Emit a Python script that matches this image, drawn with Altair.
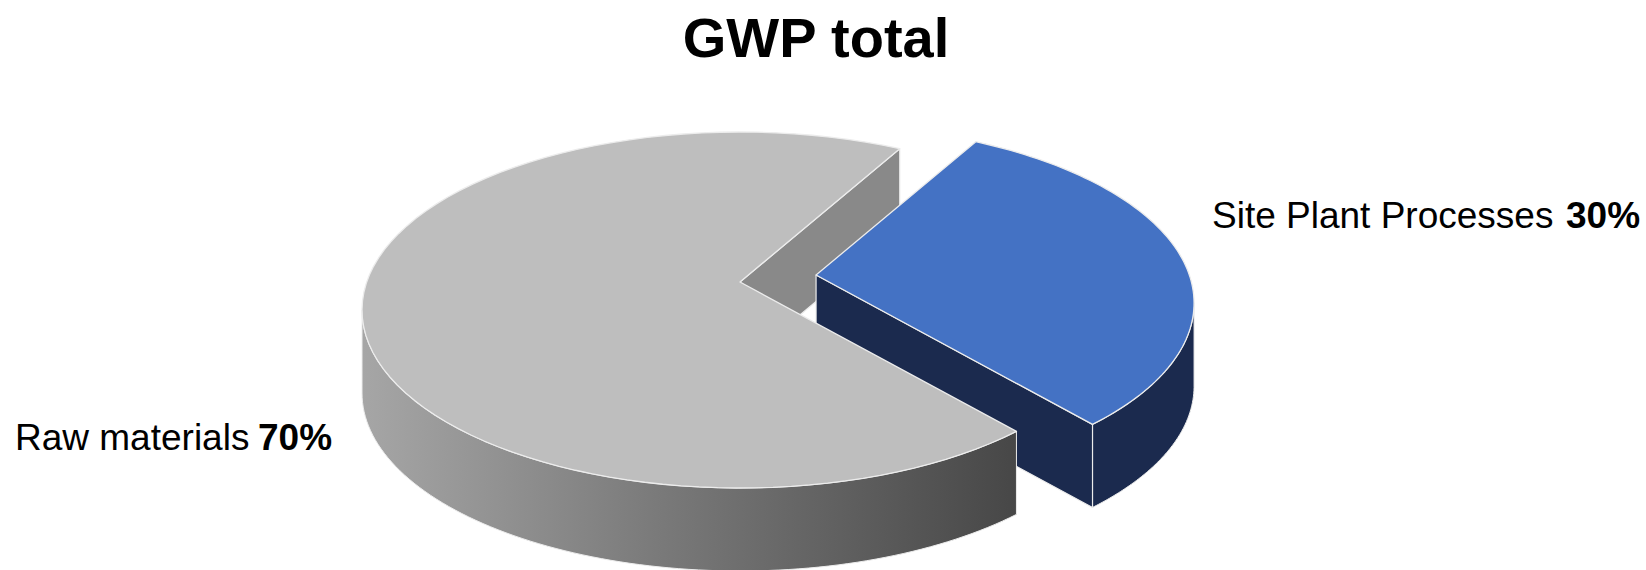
import altair as alt
import pandas as pd

# ---- data ----
CATEGORIES = ["Site Plant Processes", "Raw materials"]
VALUES = [30, 70]
TITLE = "GWP total"

# ---- geometry / style constants (pixels) ----
W, H = 1646, 570
CX, CY = 740, 310          # rim ellipse centre
RX, RY = 378, 178          # rim ellipse radii
AY = -28                   # perspective offset of pie centre
DEPTH = 83                 # pie thickness
START = 25                 # first slice start angle (deg, clockwise from top)
EXPLODED = "Site Plant Processes"
EXPLODE = 0.205
N = 90
FONT = "Liberation Sans"
EDGE = "#ececec"
RAD = "PI/180"
LABEL_SIZE = 37

STYLE = {
    "Site Plant Processes": {"top": "#4472c4", "face": "#1b2a4e",
                             "wall": "#1b2a4e"},
    "Raw materials": {"top": "#bebebe", "face": "#898989",
                      "wall": alt.Gradient(
                          gradient="linear",
                          stops=[alt.GradientStop(color="#a6a6a6", offset=0),
                                 alt.GradientStop(color="#7a7a7a", offset=0.45),
                                 alt.GradientStop(color="#474747", offset=1)],
                          x1=0, x2=1, y1=0, y2=0)},
}

df = pd.DataFrame({"category": CATEGORIES, "value": VALUES})

xs = alt.Scale(domain=[0, W], range=[0, W], nice=False, zero=False)
ys = alt.Scale(domain=[0, H], range=[0, H], nice=False, zero=False)


def base():
    return (
        alt.Chart(df)
        .transform_window(idx="row_number()")
        .transform_window(cum="sum(value)", sort=[alt.SortField("idx")],
                          frame=[None, 0])
        .transform_joinaggregate(total="sum(value)")
        .transform_calculate(t0=f"{START} + 360*(datum.cum - datum.value)/datum.total")
        .transform_calculate(t1=f"{START} + 360*datum.cum/datum.total")
        .transform_calculate(ex=f"datum.category == '{EXPLODED}' ? {EXPLODE} : 0")
        .transform_calculate(ecx=f"{CX} + datum.ex*{RX}*sin((datum.t0+datum.t1)/2*{RAD})")
        .transform_calculate(ecy=f"{CY} - datum.ex*{RY}*cos((datum.t0+datum.t1)/2*{RAD})")
    )


def poly(ch, fill, sw=1.3):
    return ch.mark_line(
        interpolate="linear-closed", fill=fill, stroke=EDGE,
        strokeWidth=sw, strokeJoin="round", fillOpacity=1
    ).encode(
        x=alt.X("px:Q", scale=xs, axis=None),
        y=alt.Y("py:Q", scale=ys, axis=None),
        order=alt.Order("s:Q"),
    )


def top(cat):
    c = (
        base()
        .transform_filter(alt.datum.category == cat)
        .transform_calculate(seq=f"sequence(0, {N + 3})")
        .transform_flatten(["seq"], as_=["s"])
        .transform_calculate(th=f"datum.t0 + (datum.t1 - datum.t0)*clamp(datum.s - 1, 0, {N})/{N}")
        .transform_calculate(apex=f"datum.s == 0 || datum.s == {N + 2}")
        .transform_calculate(px=f"datum.apex ? datum.ecx : datum.ecx + {RX}*sin(datum.th*{RAD})")
        .transform_calculate(py=f"datum.apex ? datum.ecy + ({AY}) : datum.ecy - {RY}*cos(datum.th*{RAD})")
    )
    return poly(c, STYLE[cat]["top"])


def wall(cat):
    c = (
        base()
        .transform_filter(alt.datum.category == cat)
        .transform_calculate(lo="max(datum.t0, 90)", hi="min(datum.t1, 270)")
        .transform_filter("datum.hi > datum.lo")
        .transform_calculate(seq=f"sequence(0, {2 * N + 2})")
        .transform_flatten(["seq"], as_=["s"])
        .transform_calculate(up=f"datum.s <= {N}")
        .transform_calculate(th=f"datum.up ? datum.lo + (datum.hi - datum.lo)*datum.s/{N} : datum.hi - (datum.hi - datum.lo)*(datum.s - {N} - 1)/{N}")
        .transform_calculate(px=f"datum.ecx + {RX}*sin(datum.th*{RAD})")
        .transform_calculate(py=f"datum.ecy - {RY}*cos(datum.th*{RAD}) + (datum.up ? 0 : {DEPTH})")
    )
    return poly(c, STYLE[cat]["wall"], sw=1.0)


def face(cat):
    c = (
        base()
        .transform_filter(alt.datum.category == cat)
        .transform_filter(f"sin(datum.t1*{RAD}) > 0")
        .transform_calculate(seq="sequence(0, 4)")
        .transform_flatten(["seq"], as_=["s"])
        .transform_calculate(apex="datum.s == 0 || datum.s == 3")
        .transform_calculate(px=f"datum.apex ? datum.ecx : datum.ecx + {RX}*sin(datum.t1*{RAD})")
        .transform_calculate(py=f"(datum.apex ? datum.ecy + ({AY}) : datum.ecy - {RY}*cos(datum.t1*{RAD})) + (datum.s >= 2 ? {DEPTH} : 0)")
    )
    return poly(c, STYLE[cat]["face"], sw=1.2)


def label(cat, x_name, x_pct, y):
    c = (
        base()
        .transform_filter(alt.datum.category == cat)
        .transform_calculate(pct="round(datum.value/datum.total*100) + '%'")
    )
    name = c.mark_text(align="left", baseline="alphabetic", fontSize=LABEL_SIZE,
                       font=FONT, color="#000000").encode(
        text="category:N", x=alt.value(x_name), y=alt.value(y))
    pct = c.mark_text(align="left", baseline="alphabetic", fontSize=LABEL_SIZE,
                      font=FONT, fontWeight="bold", color="#000000").encode(
        text="pct:N", x=alt.value(x_pct), y=alt.value(y))
    return name + pct


BLUE, GREY = CATEGORIES[0], CATEGORIES[1]

title = alt.Chart(pd.DataFrame({"t": [TITLE]})).mark_text(
    align="center", baseline="alphabetic", fontSize=56, fontWeight="bold",
    font=FONT, color="#000000"
).encode(text="t:N", x=alt.value(816), y=alt.value(57))

chart = alt.layer(
    face(GREY),
    wall(BLUE),
    face(BLUE),
    top(BLUE),
    wall(GREY),
    top(GREY),
    title,
    label(BLUE, 1212, 1566, 228),
    label(GREY, 15, 258, 450),
).properties(
    width=W, height=H, padding=0,
    autosize=alt.AutoSizeParams(type="none"),
).configure_view(stroke=None)

chart.save("out.html", embed_options={"renderer": "svg", "actions": False})
